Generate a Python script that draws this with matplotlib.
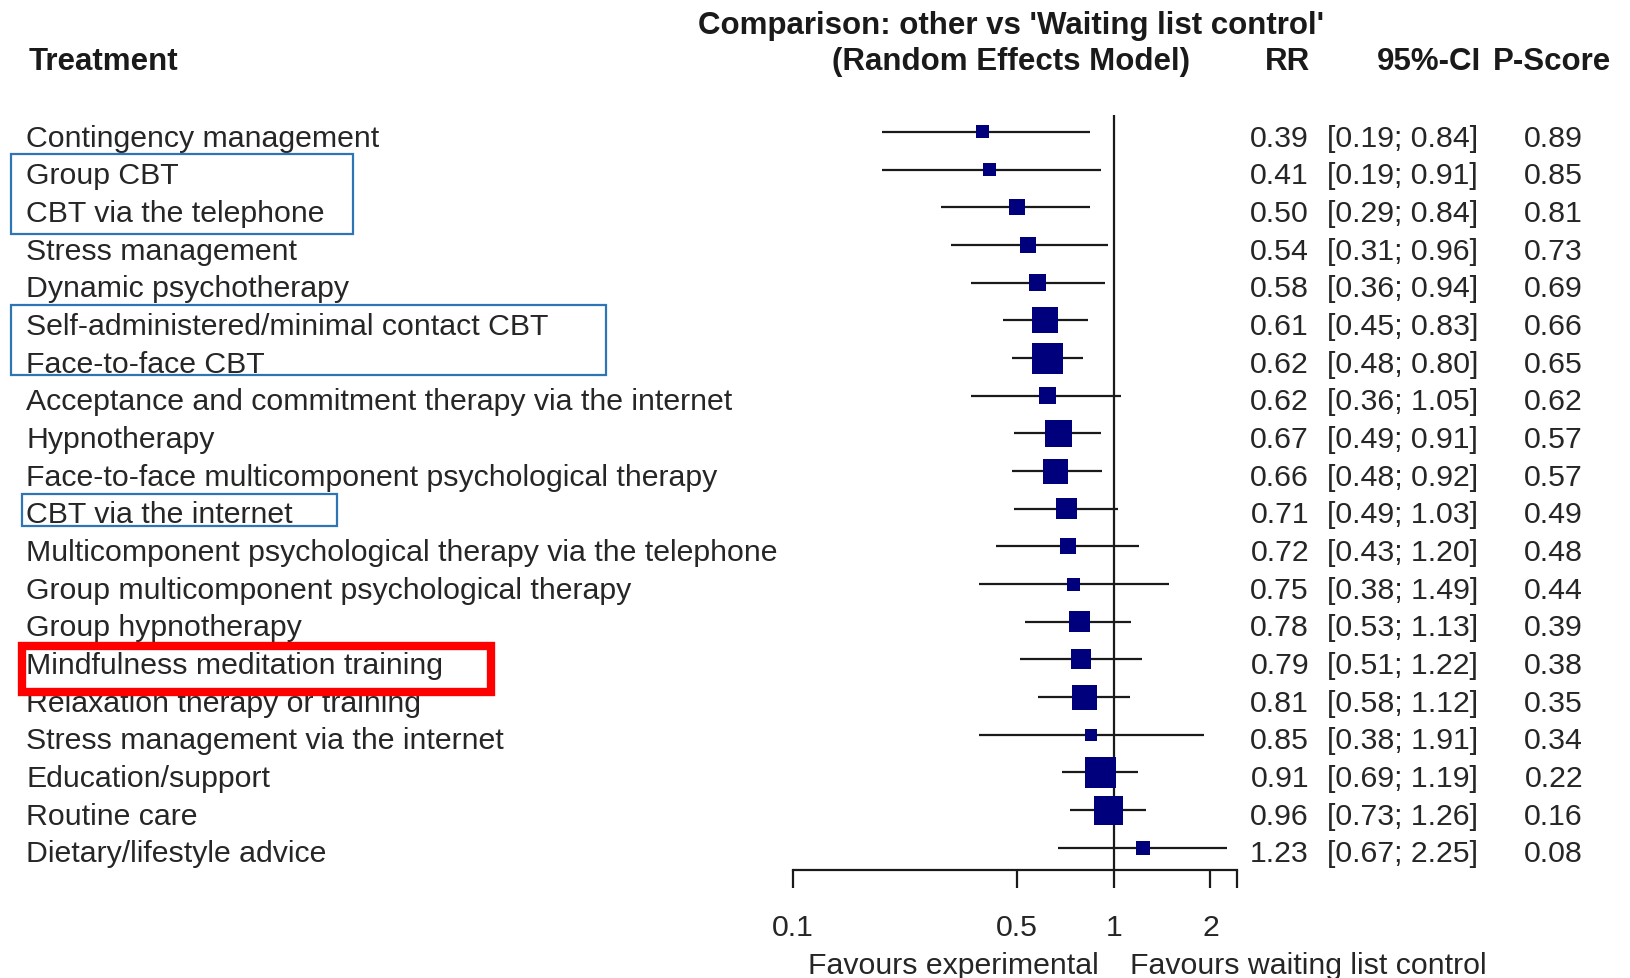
import matplotlib
matplotlib.use('Agg')
import matplotlib.pyplot as plt
import matplotlib.transforms as mtransforms
from matplotlib.patches import Rectangle
from matplotlib.ticker import NullLocator, FixedLocator, FixedFormatter
import numpy as np

plt.rcParams['font.family'] = ['Liberation Sans', 'DejaVu Sans']

# ---------------- data ----------------
treatments = [
    "Contingency management",
    "Group CBT",
    "CBT via the telephone",
    "Stress management",
    "Dynamic psychotherapy",
    "Self-administered/minimal contact CBT",
    "Face-to-face CBT",
    "Acceptance and commitment therapy via the internet",
    "Hypnotherapy",
    "Face-to-face multicomponent psychological therapy",
    "CBT via the internet",
    "Multicomponent psychological therapy via the telephone",
    "Group multicomponent psychological therapy",
    "Group hypnotherapy",
    "Mindfulness meditation training",
    "Relaxation therapy or training",
    "Stress management via the internet",
    "Education/support",
    "Routine care",
    "Dietary/lifestyle advice",
]
rr = [0.39, 0.41, 0.50, 0.54, 0.58, 0.61, 0.62, 0.62, 0.67, 0.66,
      0.71, 0.72, 0.75, 0.78, 0.79, 0.81, 0.85, 0.91, 0.96, 1.23]
ci_lower = [0.19, 0.19, 0.29, 0.31, 0.36, 0.45, 0.48, 0.36, 0.49, 0.48,
            0.49, 0.43, 0.38, 0.53, 0.51, 0.58, 0.38, 0.69, 0.73, 0.67]
ci_upper = [0.84, 0.91, 0.84, 0.96, 0.94, 0.83, 0.80, 1.05, 0.91, 0.92,
            1.03, 1.20, 1.49, 1.13, 1.22, 1.12, 1.91, 1.19, 1.26, 2.25]
p_score = [0.89, 0.85, 0.81, 0.73, 0.69, 0.66, 0.65, 0.62, 0.57, 0.57,
           0.49, 0.48, 0.44, 0.39, 0.38, 0.35, 0.34, 0.22, 0.16, 0.08]
# relative box size (weight) of each estimate, read from square sizes
weight = [13, 13, 16, 16, 17, 26, 31, 17, 27, 25,
          21, 16, 13, 21, 20, 25, 12, 31, 29, 14]

tick_values = [0.1, 0.5, 1, 2]
tick_labels = ["0.1", "0.5", "1", "2"]

# ---------------- figure ----------------
W, H = 1630, 979
DPI = 100
fig = plt.figure(figsize=(W / DPI, H / DPI), dpi=DPI)
TXT = '#262626'
FS = 21.8
HFS = 22.5


def fx(x):
    return x / W


def fy(y):
    return 1 - y / H


ax = fig.add_axes([fx(793), fy(871), (1237 - 793) / W, (871 - 116) / H])
ax.set_xscale('log')
ax.set_xlim(0.1, 2.42)
ax.set_ylim(20.59, 0.549)
ax.set_facecolor('none')

rows = np.arange(1, len(treatments) + 1)
ax.hlines(rows, ci_lower, ci_upper, color='#1a1a1a', lw=1.6, zorder=2)
ax.scatter(rr, rows, marker='s', s=(np.array(weight) * 0.72) ** 2,
           color='#00007c', linewidths=0, zorder=3)
ax.axvline(1, color='#1a1a1a', lw=1.6, zorder=1)

for s in ['left', 'top', 'right']:
    ax.spines[s].set_visible(False)
ax.spines['bottom'].set_linewidth(1.6)
ax.spines['bottom'].set_color('#1a1a1a')
ax.set_yticks([])
ax.xaxis.set_major_locator(FixedLocator(tick_values + [2.42]))
ax.xaxis.set_major_formatter(FixedFormatter(tick_labels + [""]))
ax.xaxis.set_minor_locator(NullLocator())
ax.tick_params(axis='x', direction='out', length=13, width=1.6,
               color='#1a1a1a', pad=18, labelsize=FS, labelcolor=TXT)

# transforms: x in figure fraction, y in data rows
base = mtransforms.blended_transform_factory(fig.transFigure, ax.transData)
trans = base + mtransforms.ScaledTranslation(0, -0.137, fig.dpi_scale_trans)

for i, r in enumerate(rows):
    ax.text(fx(26), r, treatments[i], transform=trans, ha='left', va='baseline',
            fontsize=FS, color=TXT, clip_on=False)
    ax.text(fx(1309), r, f"{rr[i]:.2f}", transform=trans, ha='right',
            va='baseline', fontsize=FS, color=TXT, clip_on=False)
    ax.text(fx(1478), r, f"[{ci_lower[i]:.2f}; {ci_upper[i]:.2f}]",
            transform=trans, ha='right', va='baseline', fontsize=FS,
            color=TXT, clip_on=False)
    ax.text(fx(1583), r, f"{p_score[i]:.2f}", transform=trans, ha='right',
            va='baseline', fontsize=FS, color=TXT, clip_on=False)

# headers
hdr = dict(fontsize=HFS, fontweight='bold', color='#1a1a1a', va='baseline')
fig.text(fx(1011), fy(34), "Comparison: other vs 'Waiting list control'",
         ha='center', **hdr)
fig.text(fx(29), fy(70), "Treatment", ha='left', **hdr)
fig.text(fx(1190), fy(70), "(Random Effects Model)", ha='right', **hdr)
fig.text(fx(1310), fy(70), "RR", ha='right', **hdr)
fig.text(fx(1481), fy(70), "95%-CI", ha='right', **hdr)
fig.text(fx(1611), fy(70), "P-Score", ha='right', **hdr)

# favours labels
fig.text(fx(1099), fy(974), "Favours experimental", ha='right', va='baseline',
         fontsize=FS, color=TXT)
fig.text(fx(1130), fy(974), "Favours waiting list control", ha='left',
         va='baseline', fontsize=FS, color=TXT)

# highlight boxes
def frame(x0, y0, x1, y1, color, lw):
    rect = Rectangle((fx(x0), fy(y1)), (x1 - x0) / W, (y1 - y0) / H,
                     transform=fig.transFigure, fill=False, ec=color, lw=lw,
                     zorder=10)
    fig.add_artist(rect)


BLUE = '#2e75b6'
frame(11, 155, 353, 235, BLUE, 1.6)
frame(11, 306, 606, 376, BLUE, 1.6)
frame(22, 495, 337, 527, BLUE, 1.6)
frame(22, 647, 491, 693, '#ff0000', 6.0)

fig.savefig('out.png', dpi=DPI, facecolor='white')
